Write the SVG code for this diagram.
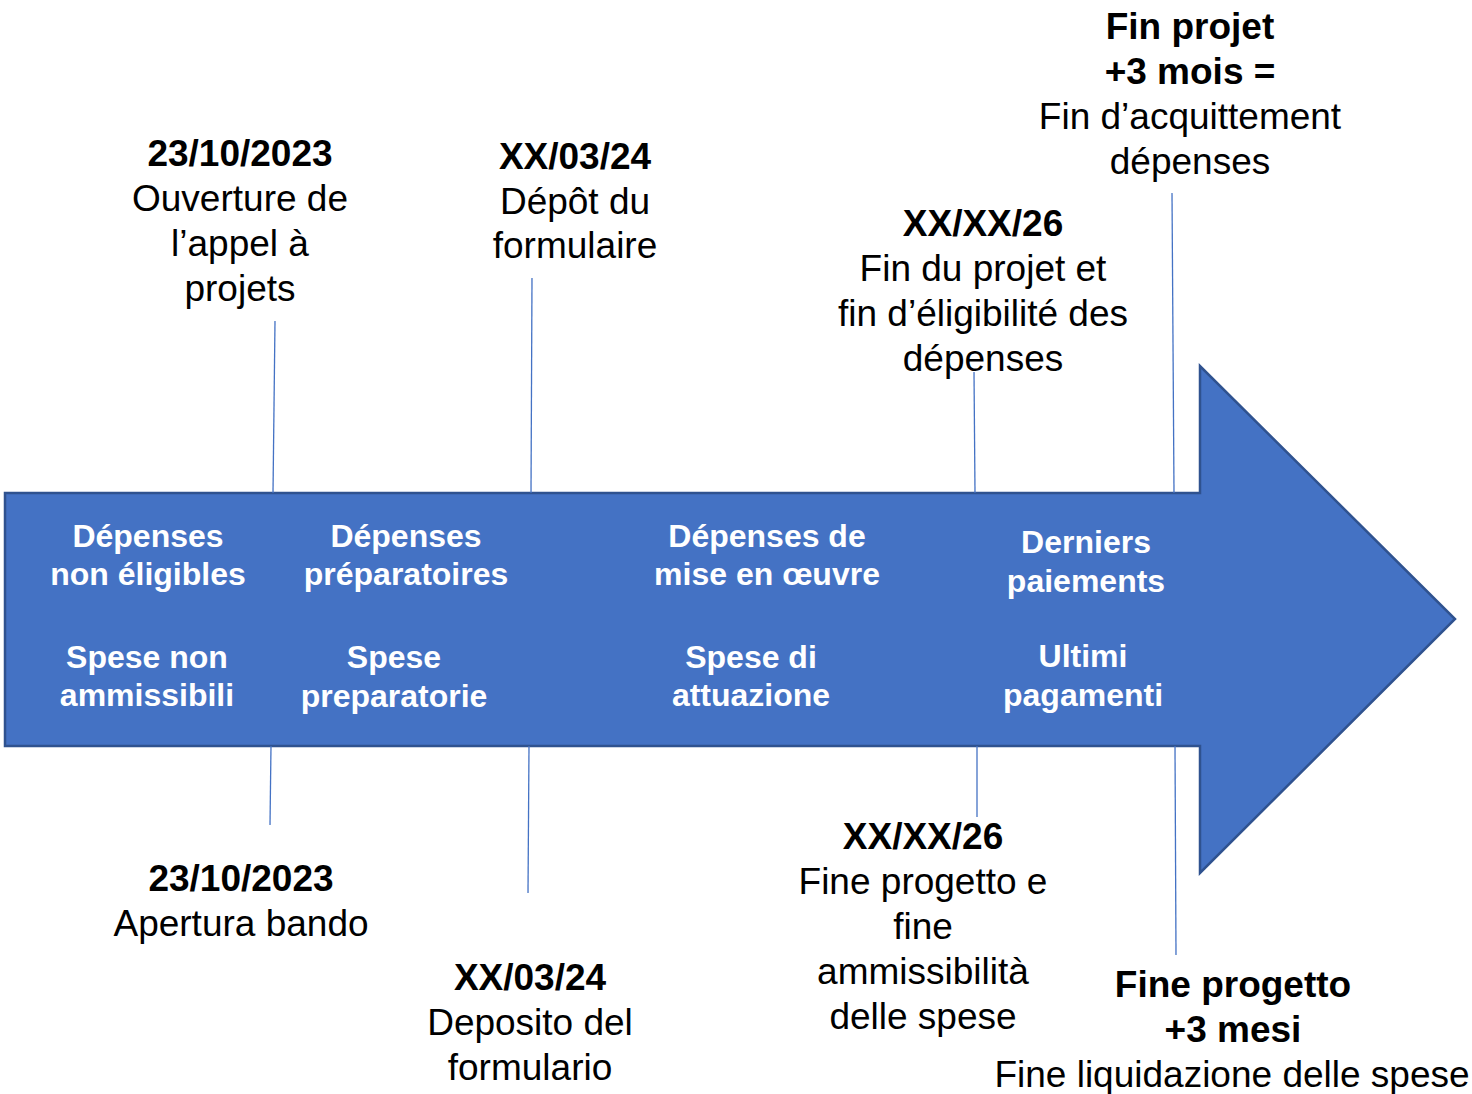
<svg xmlns="http://www.w3.org/2000/svg" width="1472" height="1094" viewBox="0 0 1472 1094">
<style>
.t{font-family:"Liberation Sans",Arial,sans-serif;font-size:37px;fill:#000;text-anchor:middle}
.b{font-weight:bold}
.w{font-family:"Liberation Sans",Arial,sans-serif;font-size:32px;font-weight:bold;fill:#fff;text-anchor:middle}
.ln{stroke:#4472C4;stroke-width:1.3;fill:none}
</style>
<rect width="1472" height="1094" fill="#fff"/>
<g id="arrow">
<path d="M5,493 L1200,493 L1200,366 L1455,619 L1200,873 L1200,746 L5,746 Z" fill="#4472C4" stroke="#2F528F" stroke-width="2.5"/>
<text class="w" x="148" y="547">Dépenses</text>
<text class="w" x="148" y="585">non éligibles</text>
<text class="w" x="147" y="668">Spese non</text>
<text class="w" x="147" y="706">ammissibili</text>
<text class="w" x="406" y="547">Dépenses</text>
<text class="w" x="406" y="585">préparatoires</text>
<text class="w" x="394" y="668">Spese</text>
<text class="w" x="394" y="707">preparatorie</text>
<text class="w" x="767" y="547">Dépenses de</text>
<text class="w" x="767" y="585">mise en œuvre</text>
<text class="w" x="751" y="668">Spese di</text>
<text class="w" x="751" y="706">attuazione</text>
<text class="w" x="1086" y="553">Derniers</text>
<text class="w" x="1086" y="592">paiements</text>
<text class="w" x="1083" y="667">Ultimi</text>
<text class="w" x="1083" y="706">pagamenti</text>
</g>
<g id="connectors">
<line class="ln" x1="275" y1="321" x2="273" y2="493"/>
<line class="ln" x1="271" y1="746" x2="270" y2="825"/>
<line class="ln" x1="532" y1="278" x2="531" y2="493"/>
<line class="ln" x1="529" y1="746" x2="528" y2="893"/>
<line class="ln" x1="974" y1="372" x2="975" y2="493"/>
<line class="ln" x1="977" y1="746" x2="977" y2="817"/>
<line class="ln" x1="1172" y1="193" x2="1174" y2="493"/>
<line class="ln" x1="1175" y1="746" x2="1176" y2="955"/>
</g>
<g id="top1">
<text class="t b" x="240" y="166">23/10/2023</text>
<text class="t" x="240" y="211">Ouverture de</text>
<text class="t" x="240" y="256">l’appel à</text>
<text class="t" x="240" y="301">projets</text>
</g>
<g id="top2">
<text class="t b" x="575" y="169">XX/03/24</text>
<text class="t" x="575" y="214">Dépôt du</text>
<text class="t" x="575" y="258">formulaire</text>
</g>
<g id="top3">
<text class="t b" x="983" y="236">XX/XX/26</text>
<text class="t" x="983" y="281">Fin du projet et</text>
<text class="t" x="983" y="326">fin d’éligibilité des</text>
<text class="t" x="983" y="371">dépenses</text>
</g>
<g id="top4">
<text class="t b" x="1190" y="39">Fin projet</text>
<text class="t b" x="1190" y="84">+3 mois =</text>
<text class="t" x="1190" y="129">Fin d’acquittement</text>
<text class="t" x="1190" y="174">dépenses</text>
</g>
<g id="bottom1">
<text class="t b" x="241" y="891">23/10/2023</text>
<text class="t" x="241" y="936">Apertura bando</text>
</g>
<g id="bottom2">
<text class="t b" x="530" y="990">XX/03/24</text>
<text class="t" x="530" y="1035">Deposito del</text>
<text class="t" x="530" y="1080">formulario</text>
</g>
<g id="bottom3">
<text class="t b" x="923" y="849">XX/XX/26</text>
<text class="t" x="923" y="894">Fine progetto e</text>
<text class="t" x="923" y="939">fine</text>
<text class="t" x="923" y="984">ammissibilità</text>
<text class="t" x="923" y="1029">delle spese</text>
</g>
<g id="bottom4">
<text class="t b" x="1233" y="997">Fine progetto</text>
<text class="t b" x="1233" y="1042">+3 mesi</text>
<text class="t" x="1232" y="1087">Fine liquidazione delle spese</text>
</g>
</svg>
